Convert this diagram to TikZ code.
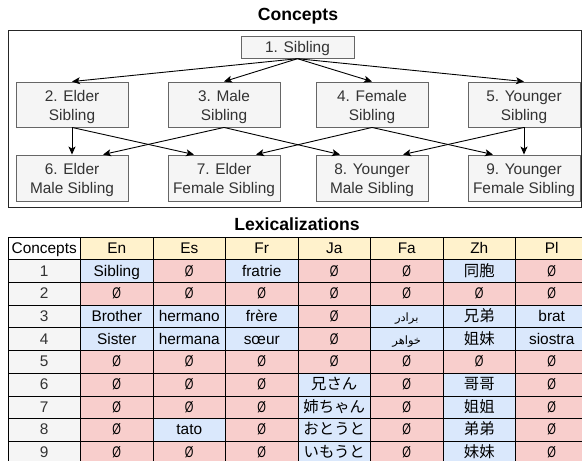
\documentclass[tikz,border=0pt]{standalone}
\usepackage{fontspec}
\setmainfont{Liberation Sans}
\newfontfamily\zhfont{Noto Sans CJK SC}
\newfontfamily\jafont{Noto Sans CJK JP}
\newfontfamily\fafont[Script=Arabic]{DejaVu Sans}
\TeXXeTstate=1
\usetikzlibrary{arrows.meta,calc}
\definecolor{nodefill}{HTML}{F5F5F5}
\definecolor{nodeline}{HTML}{666666}
\definecolor{nodetext}{HTML}{333333}
\definecolor{cY}{HTML}{FFF2CC}
\definecolor{cR}{HTML}{F8CECC}
\definecolor{cB}{HTML}{DAE8FC}
\definecolor{cG}{HTML}{F5F5F5}
\newcommand\esym{\scalebox{0.72}[1]{Ø}}
\newcommand\zh{\zhfont}
\newcommand\ja{\jafont}
\newcommand\faS{\fafont\fontsize{11.5}{13}\selectfont}
\tikzset{
  body/.style={font=\fontsize{15.4}{19}\selectfont},
  concept/.style={body, draw=nodeline, fill=nodefill, text=nodetext, line width=0.9pt,
    align=center, inner sep=0pt, minimum width=112pt},
  twoline/.style={concept, minimum height=45pt, text height=33pt, text depth=2pt},
  oneline/.style={concept, minimum width=113pt, minimum height=21.5pt, text height=12pt, text depth=2pt},
  arr/.style={draw=black, line width=0.9pt, -{Stealth[length=8pt,width=7pt,inset=2pt]}},
  title/.style={font=\bfseries\fontsize{17.6}{20}\selectfont, anchor=base, inner sep=0pt},
  cell/.style={body, draw=black, line width=0.8pt, minimum width=72.5pt, minimum height=22.7pt,
    inner sep=0pt, text height=12pt, text depth=2pt, text=black},
  numcell/.style={cell, fill=cG, text=nodetext},
}
\begin{document}
\begin{tikzpicture}[x=1pt,y=-1pt]
\useasboundingbox (0,0) rectangle (582,461);
\clip (0,0) rectangle (582,461);
\fill[white] (0,0) rectangle (582,461);

% ---- Concepts ----
\node[title] (ttl1) at (298,20.7) {Concepts};
\draw[draw=black!85, line width=0.9pt] (8,30) rectangle (581,207);

\node[oneline] (n1) at (297.5,47.5) {1. Sibling};
\node[twoline] (n2) at (72,104.5) {2. Elder\\Sibling};
\node[twoline] (n3) at (224,104.5) {3. Male\\Sibling};
\node[twoline] (n4) at (372,104.5) {4. Female\\Sibling};
\node[twoline] (n5) at (524,104.5) {5. Younger\\Sibling};
\node[twoline, minimum height=46pt] (n6) at (72,178) {6. Elder\\Male Sibling};
\node[twoline, minimum height=46pt] (n7) at (224,178) {7. Elder\\Female Sibling};
\node[twoline, minimum height=46pt] (n8) at (372,178) {8. Younger\\Male Sibling};
\node[twoline, minimum height=46pt] (n9) at (524,178) {9. Younger\\Female Sibling};

\draw[arr] (n1.south) -- (n2.north);
\draw[arr] (n1.south) -- (n3.north);
\draw[arr] (n1.south) -- (n4.north);
\draw[arr] (n1.south) -- (n5.north);

\draw[arr] (n2.south) -- (n6.north);
\draw[arr] (n2.south) -- ([xshift=-30pt]n7.north);
\draw[arr] (n3.south) -- ([xshift=31pt]n6.north);
\draw[arr] (n3.south) -- ([xshift=-32pt]n8.north);
\draw[arr] (n4.south) -- ([xshift=32pt]n7.north);
\draw[arr] (n4.south) -- ([xshift=-31pt]n9.north);
\draw[arr] (n5.south) -- ([xshift=31pt]n8.north);
\draw[arr] (n5.south) -- (n9.north);

% ---- Lexicalizations ----
\node[title] (ttl2) at (297,230) {Lexicalizations};

\node[cell, fill=white] (h-0) at (44.25,248.35) {Concepts};
\foreach \t [count=\c] in {En,Es,Fr,Ja,Fa,Zh,Pl}
  \node[cell, fill=cY] (h-\c) at ({44.25+72.5*\c},248.35) {\t};

\foreach \r/\cells in {
  1/{B/Sibling,R/\esym,B/fratrie,R/\esym,R/\esym,B/{\zh 同胞},R/\esym},
  2/{R/\esym,R/\esym,R/\esym,R/\esym,R/\esym,R/\esym,R/\esym},
  3/{B/Brother,B/hermano,B/frère,R/\esym,B/{\faS\beginR برادر\endR},B/{\zh 兄弟},B/brat},
  4/{B/Sister,B/hermana,B/sœur,R/\esym,B/{\faS\beginR خواهر\endR},B/{\zh 姐妹},B/siostra},
  5/{R/\esym,R/\esym,R/\esym,R/\esym,R/\esym,R/\esym,R/\esym},
  6/{R/\esym,R/\esym,R/\esym,B/{\ja 兄さん},R/\esym,B/{\zh 哥哥},R/\esym},
  7/{R/\esym,R/\esym,R/\esym,B/{\ja 姉ちゃん},R/\esym,B/{\zh 姐姐},R/\esym},
  8/{R/\esym,B/tato,R/\esym,B/{\ja おとうと},R/\esym,B/{\zh 弟弟},R/\esym},
  9/{R/\esym,R/\esym,R/\esym,B/{\ja いもうと},R/\esym,B/{\zh 妹妹},R/\esym}}
{
  \node[numcell] (t-\r-0) at (44.25,{248.35+22.7*\r}) {\r};
  \foreach \s/\t [count=\c] in \cells
    \node[cell, fill=c\s] (t-\r-\c) at ({44.25+72.5*\c},{248.35+22.7*\r}) {\t};
}
\end{tikzpicture}
\end{document}
